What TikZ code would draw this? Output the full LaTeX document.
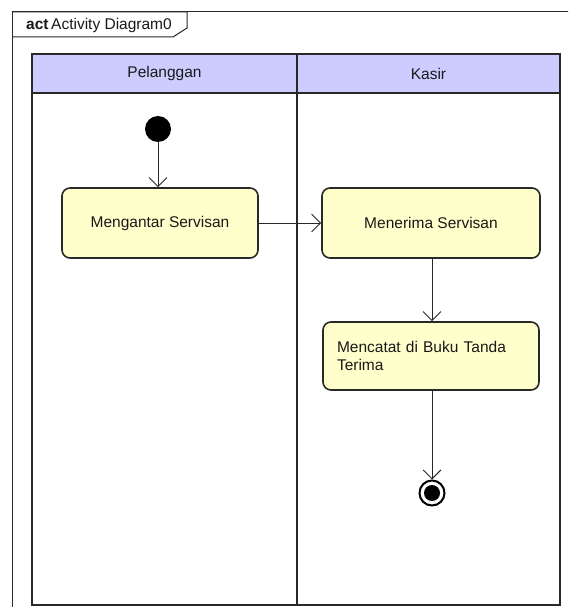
\documentclass[tikz,border=0pt]{standalone}
\usepackage{fontspec}
\setmainfont{Liberation Sans}
\usetikzlibrary{arrows.meta}
\definecolor{lanehead}{RGB}{204,204,255}
\definecolor{actfill}{RGB}{255,255,204}
\definecolor{inkline}{RGB}{40,40,40}
\begin{document}
\begin{tikzpicture}[x=1pt,y=-1pt,
  txt/.style={font=\fontsize{15.5}{17.5}\selectfont, text=black!90},
  lanehdr/.style={draw=inkline, line width=1.6pt, fill=lanehead, minimum height=39pt, inner sep=0pt, txt},
  lanebody/.style={draw=inkline, line width=1.6pt},
  action/.style={draw=inkline, line width=1.6pt, fill=actfill, rounded corners=8pt,
    minimum height=70pt, inner sep=0pt, txt},
  flow/.style={draw=inkline, line width=0.9pt,
    -{Straight Barb[length=9pt,width=18pt,line width=0.9pt]}},
  initnode/.style={circle, fill=black, minimum size=26pt, inner sep=0pt},
  finalnode/.style={circle, draw=black, line width=2pt, fill=white, minimum size=25pt, inner sep=0pt}]

\useasboundingbox (0,0) rectangle (568,607);
\fill[white] (0,0) rectangle (568,607);

% diagram frame, running off the page to the right and bottom
\begin{scope}
  \clip (0,0) rectangle (568,607);
  \draw[inkline, line width=1pt] (12,640) -- (12,12) -- (600,12);
\end{scope}
% frame name tag
\draw[inkline, line width=1pt] (12,12) -- (187,12) -- (187,28) -- (173,37) -- (12,37);
\node[txt, anchor=west, inner sep=0pt] (tag) at (26,25) {\textbf{act}\,Activity Diagram0};

% swimlanes
\draw[lanebody] (32,54) rectangle (297,605);
\draw[lanebody] (297,54) rectangle (560,605);
\node[lanehdr, minimum width=265pt] (lane1) at (164.5,73.5) {Pelanggan};
\node[lanehdr, minimum width=263pt] (lane2) at (428.5,73.5) {Kasir};

% nodes
\node[initnode] (start) at (158,129) {};
\node[action, minimum width=196pt] (antar) at (160,223) {Mengantar Servisan};
\node[action, minimum width=218pt] (terima) at (431,223) {Menerima Servisan};
\node[action, minimum width=216pt, minimum height=68pt, text width=188pt, inner xsep=14pt,
  align=left] (catat) at (431,356) {Mencatat di Buku Tanda\\Terima};
\node[finalnode] (final) at (432,493) {};
\fill[black] (final.center) circle (8pt);

% control flows
\draw[flow] (start) -- (start |- antar.north);
\draw[flow] (antar) -- (terima);
\draw[flow] (terima.south -| final) -- (catat.north -| final);
\draw[flow] (catat.south -| final) -- (final.north);
\end{tikzpicture}
\end{document}
